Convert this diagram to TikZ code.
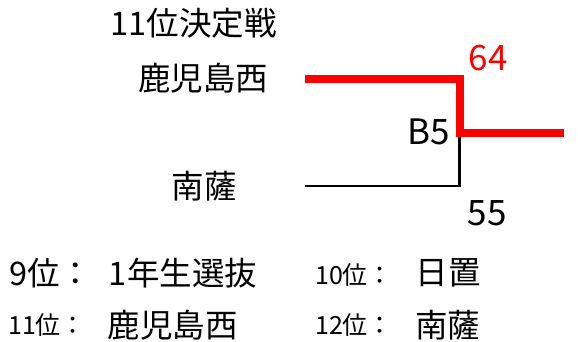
\documentclass[tikz,border=0pt]{standalone}
\usepackage{fontspec}
\setmainfont{Noto Sans CJK JP}
\usepackage{tikz}
\usetikzlibrary{arrows,shapes}
\tikzstyle{label}=[inner sep=0pt,text depth=0pt]
\tikzstyle{team}=[label,text height=24.7pt,font=\fontsize{32.5pt}{32.5pt}\selectfont]
\tikzstyle{score}=[label,text height=26.6pt,font=\fontsize{35pt}{35pt}\selectfont]
\tikzstyle{small rank}=[label,anchor=west,text height=19pt,font=\fontsize{25pt}{25pt}\selectfont]
\tikzstyle{winner}=[draw=red,line width=8pt,line join=miter]
\tikzstyle{loser}=[draw,line width=2.5pt,line join=miter]

\begin{document}
\begin{tikzpicture}[x=1pt,y=-1pt]
    \useasboundingbox (0,0) rectangle (578,341);
    \node[team] (title) at (193.5,23.5) {11位決定戦};
    \foreach \pos/\name/\txt in {{(203,78.5)/kago/鹿児島西}, {(204,186)/nans/南薩}}
        \node[team] (\name) at \pos {\txt};
    % bracket
    \coordinate (kagoend) at (305,78.5);
    \coordinate (nansend) at (305,186);
    \coordinate (top) at (459.5,78.5);
    \coordinate (bot) at (459.5,186);
    \coordinate (join) at (459.5,132.5);
    \coordinate (next) at (564,132.5);
    \path[loser] (nansend) -- (bot) -- (join);
    \path[winner] (kagoend) -- (top) -- (join) -- (next);
    \node[score,text=red] (sa) at (488,57) {64};
    \node[score] (game) at (429,131.5) {B5};
    \node[score] (sb) at (487,212) {55};
    % ranking
    \node[team,anchor=west] (r9) at (9,273.5) {9位：};
    \node[team] (t9) at (183,273.5) {1年生選抜};
    \foreach \pos/\name/\txt in {{(315,275)/r10/10位：}, {(8,325)/r11/11位：}, {(315,325)/r12/12位：}}
        \node[small rank] (\name) at \pos {\txt};
    \foreach \pos/\name/\txt in {{(448,272.5)/t10/日置}, {(172.5,325)/t11/鹿児島西}, {(447.5,325)/t12/南薩}}
        \node[team] (\name) at \pos {\txt};
\end{tikzpicture}
\end{document}
